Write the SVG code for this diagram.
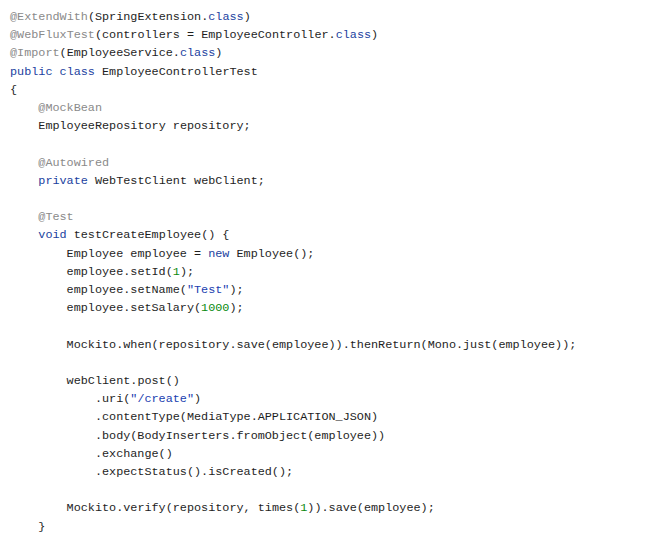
<svg xmlns="http://www.w3.org/2000/svg" width="667" height="545" viewBox="0 0 667 545">
<style>
text{font-family:"Liberation Mono","DejaVu Sans Mono",monospace;font-size:11.8px;fill:#1e1e1e;white-space:pre}
.a{fill:#8a8a8a}.k{fill:#1b3fa0}.s{fill:#2040b0}.n{fill:#098a0e}
</style>
<rect width="667" height="545" fill="#fff"/>
<g xml:space="preserve">
<text x="10" y="20"><tspan class="a">@ExtendWith</tspan>(SpringExtension.<tspan class="k">class</tspan>)</text>
<text x="10" y="38.2"><tspan class="a">@WebFluxTest</tspan>(controllers = EmployeeController.<tspan class="k">class</tspan>)</text>
<text x="10" y="56.4"><tspan class="a">@Import</tspan>(EmployeeService.<tspan class="k">class</tspan>)</text>
<text x="10" y="74.6"><tspan class="k">public class</tspan> EmployeeControllerTest</text>
<text x="10" y="92.8">{</text>
<text x="38.3" y="111"><tspan class="a">@MockBean</tspan></text>
<text x="38.3" y="129.2">EmployeeRepository repository;</text>
<text x="38.3" y="165.6"><tspan class="a">@Autowired</tspan></text>
<text x="38.3" y="183.8"><tspan class="k">private</tspan> WebTestClient webClient;</text>
<text x="38.3" y="220.2"><tspan class="a">@Test</tspan></text>
<text x="38.3" y="238.4"><tspan class="k">void</tspan> testCreateEmployee() {</text>
<text x="66.6" y="256.6">Employee employee = <tspan class="k">new</tspan> Employee();</text>
<text x="66.6" y="274.8">employee.setId(<tspan class="n">1</tspan>);</text>
<text x="66.6" y="293">employee.setName(<tspan class="s">"Test"</tspan>);</text>
<text x="66.6" y="311.2">employee.setSalary(<tspan class="n">1000</tspan>);</text>
<text x="66.6" y="347.6">Mockito.when(repository.save(employee)).thenReturn(Mono.just(employee));</text>
<text x="66.6" y="384">webClient.post()</text>
<text x="94.9" y="402.2">.uri(<tspan class="s">"/create"</tspan>)</text>
<text x="94.9" y="420.4">.contentType(MediaType.APPLICATION_JSON)</text>
<text x="94.9" y="438.6">.body(BodyInserters.fromObject(employee))</text>
<text x="94.9" y="456.8">.exchange()</text>
<text x="94.9" y="475">.expectStatus().isCreated();</text>
<text x="66.6" y="511.4">Mockito.verify(repository, times(<tspan class="n">1</tspan>)).save(employee);</text>
<text x="38.3" y="529.6">}</text>
</g>
</svg>
